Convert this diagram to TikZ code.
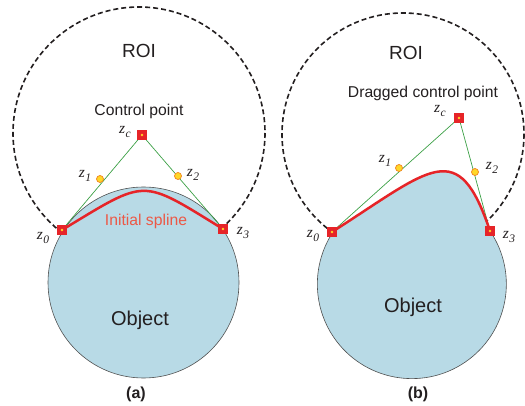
\documentclass[tikz,border=0pt]{standalone}
\usepackage{fontspec}
\setmainfont{Liberation Sans}
\newfontfamily\zfont{Liberation Serif}
\definecolor{objfill}{RGB}{184,218,230}
\definecolor{objline}{RGB}{80,80,80}
\definecolor{splred}{RGB}{230,36,40}
\definecolor{lblred}{RGB}{236,88,70}
\definecolor{ctrlgreen}{RGB}{60,160,70}
\definecolor{ptyellow}{RGB}{255,215,40}
\definecolor{ptorange}{RGB}{240,130,30}
\definecolor{txt}{RGB}{35,31,32}
\newcommand\zl[1]{{\zfont\itshape z\kern0.5pt\raisebox{-0.45ex}{\fontsize{11.5}{11.5}\selectfont #1}}}
\tikzset{
  roi/.style={draw=txt, line width=1.6pt, dash pattern=on 5pt off 3pt},
  obj/.style={fill=objfill, draw=objline, line width=0.6pt},
  ctrlline/.style={draw=ctrlgreen, line width=0.7pt},
  spline/.style={draw=splred, line width=2.5pt},
  ctrlsq/.style={rectangle, fill=splred, minimum size=9.5pt, inner sep=0pt,
    path picture={\fill[ptyellow] (path picture bounding box.center) circle[radius=1.4pt];}},
  midpt/.style={circle, fill=ptyellow, draw=ptorange, line width=0.7pt, minimum size=7pt, inner sep=0pt},
  zlab/.style={text=txt, font=\fontsize{15.5}{15.5}\selectfont, inner sep=0pt},
  roilab/.style={text=txt, font=\fontsize{19}{19}\selectfont, inner sep=0pt},
  cplab/.style={text=txt, font=\fontsize{15.7}{16}\selectfont, inner sep=0pt},
  objlab/.style={text=txt, font=\fontsize{20}{20}\selectfont, inner sep=0pt},
  spllab/.style={text=lblred, font=\fontsize{15.7}{16}\selectfont, inner sep=0pt},
  caplab/.style={text=txt, font=\fontsize{16}{16}\selectfont\bfseries, inner sep=0pt}
}
\begin{document}
\begin{tikzpicture}[x=1pt,y=-1pt]
\useasboundingbox (0,0) rectangle (525,406);
% ROI circles
\draw[roi] (139,133) circle[radius=126];
\draw[roi] (403,134) circle[radius=121];
% control point nodes (positions)
\node[ctrlsq] (a0) at (62,230) {};
\node[ctrlsq] (ac) at (142,135) {};
\node[ctrlsq] (a3) at (223,229) {};
\node[ctrlsq] (b0) at (332,232) {};
\node[ctrlsq] (bc) at (459,118) {};
\node[ctrlsq] (b3) at (490,231) {};
% objects
\draw[obj] (143.5,282.5) circle[radius=95.5];
\draw[obj] (b0.center) .. controls (432,168) and (458,136) .. (b3.center)
  arc[start angle=-34.2, end angle=213, radius=94.5] -- cycle;
% control polygons
\draw[ctrlline] (a0.center) -- (ac.center) -- (a3.center);
\draw[ctrlline] (b0.center) -- (bc.center) -- (b3.center);
% splines
\draw[spline] (a0.center) .. controls (148,178) and (140,178) .. (a3.center);
\draw[spline] (b0.center) .. controls (432,168) and (458,136) .. (b3.center);
% redraw squares on top
\node[ctrlsq] at (a0) {};
\node[ctrlsq] at (ac) {};
\node[ctrlsq] at (a3) {};
\node[ctrlsq] at (b0) {};
\node[ctrlsq] at (bc) {};
\node[ctrlsq] at (b3) {};
% mid points
\node[midpt] (a1) at (100,179) {};
\node[midpt] (a2) at (178,176) {};
\node[midpt] (b1) at (399,168) {};
\node[midpt] (b2) at (475,172) {};
% labels (a)
\node[roilab] (roia) at (139,51) {ROI};
\node[cplab] (cpa) at (139,111) {Control point};
\node[zlab] (lac) at (125,132) {\zl{c}};
\node[zlab] (la1) at (85,176) {\zl{1}};
\node[zlab] (la2) at (193,175) {\zl{2}};
\node[zlab] (la0) at (43,238) {\zl{0}};
\node[zlab] (la3) at (243,233) {\zl{3}};
\node[spllab] (spla) at (146,221) {Initial spline};
\node[objlab] (obja) at (140,320) {Object};
\node[caplab] (capa) at (136,394) {(a)};
% labels (b)
\node[roilab] (roib) at (406,53) {ROI};
\node[cplab] (cpb) at (423,93) {Dragged control point};
\node[zlab] (lbc) at (440,111) {\zl{c}};
\node[zlab] (lb1) at (385,161) {\zl{1}};
\node[zlab] (lb2) at (492,168) {\zl{2}};
\node[zlab] (lb0) at (313,236) {\zl{0}};
\node[zlab] (lb3) at (509,237) {\zl{3}};
\node[objlab] (objb) at (413,307) {Object};
\node[caplab] (capb) at (418,394) {(b)};
\end{tikzpicture}
\end{document}
